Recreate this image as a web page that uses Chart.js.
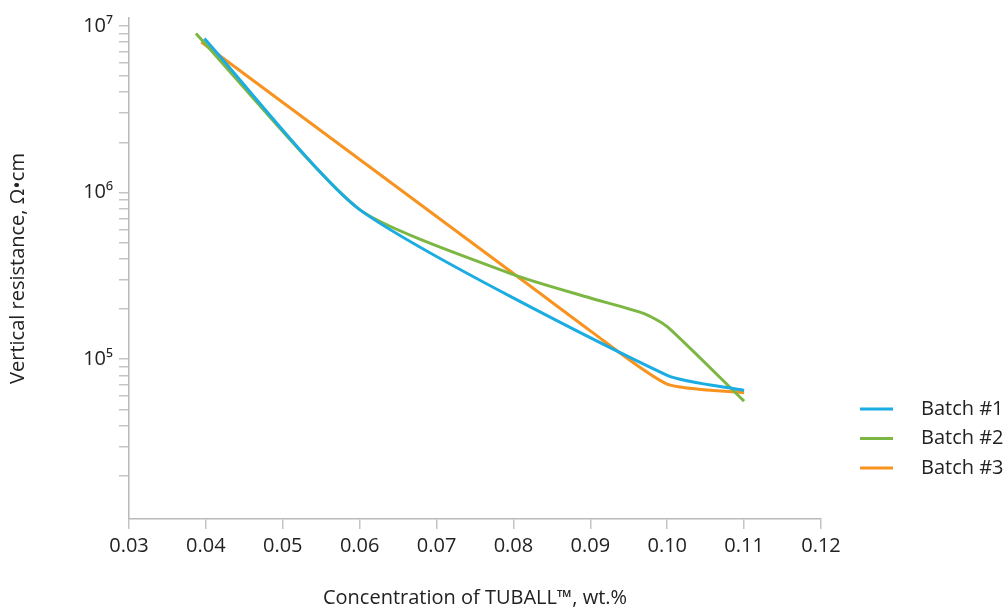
<!DOCTYPE html>
<html>
<head>
<meta charset="utf-8">
<script src="https://cdn.jsdelivr.net/npm/chart.js@4.4.1/dist/chart.umd.min.js"></script>
<style>
  body { margin: 0; background: #fff; }
  #wrap { width: 1005px; height: 612px; }
</style>
</head>
<body>
<div id="wrap"><canvas id="chart" width="1005" height="612"></canvas></div>
<script>
// series: concentration (wt.%) vs vertical resistance (Ohm*cm)
const batchNames = ["Batch #1", "Batch #2", "Batch #3"];
const batchColors = ["#1aace2", "#7cb643", "#f7931e"];

const batch1Conc = [0.0398, 0.060, 0.100, 0.110];
const batch1Res = [8.4e6, 7.9e5, 8.0e4, 6.5e4];

const batch2Conc = [0.0387, 0.060, 0.080, 0.090, 0.097, 0.100, 0.110];
const batch2Res = [9.0e6, 7.9e5, 3.22e5, 2.33e5, 1.88e5, 1.57e5, 5.6e4];

const batch3Conc = [0.0394, 0.080, 0.090, 0.100, 0.110];
const batch3Res = [8.0e6, 3.27e5, 1.48e5, 7.1e4, 6.3e4];

const xTicks = [0.03, 0.04, 0.05, 0.06, 0.07, 0.08, 0.09, 0.10, 0.11, 0.12];
const yMajor = [1e5, 1e6, 1e7];
const yMajorLabels = ["10\u2075", "10\u2076", "10\u2077"];
const yMinorMantissa = [2, 3, 4, 5, 6, 7, 8, 9];
const yDecades = [1e4, 1e5, 1e6];

const FONT = "'Open Sans', sans-serif";
const TEXT = "#222";
const FSIZE = 20;

function pts(xs, ys) {
    return xs.map((x, i) => ({ x: x, y: ys[i] }));
}

const series = [
    pts(batch1Conc, batch1Res),
    pts(batch2Conc, batch2Res),
    pts(batch3Conc, batch3Res)
];

// y tick list: majors plus 2..9 inside each decade
let yTickValues = yMajor.slice();
yDecades.forEach(d => yMinorMantissa.forEach(m => yTickValues.push(m * d)));
yTickValues = yTickValues.filter(v => v >= 1.1e4 && v <= 1.115e7).sort((a, b) => a - b);

// legend drawn on the canvas at the right side
const sideLegend = {
    id: "sideLegend",
    afterDraw(chart) {
        const ctx = chart.ctx;
        ctx.save();
        ctx.font = FSIZE + "px " + FONT;
        ctx.textBaseline = "middle";
        ctx.fillStyle = TEXT;
        chart.data.datasets.forEach((ds, i) => {
            const y = 409 + i * 29.5;
            ctx.strokeStyle = ds.borderColor;
            ctx.lineWidth = 3;
            ctx.beginPath();
            ctx.moveTo(860, y);
            ctx.lineTo(893, y);
            ctx.stroke();
            ctx.fillText(ds.label, 921, y);
        });
        ctx.restore();
    }
};

new Chart(document.getElementById("chart"), {
    type: "line",
    data: {
        datasets: series.map((data, i) => ({
            label: batchNames[i],
            data: data,
            borderColor: batchColors[i],
            backgroundColor: batchColors[i],
            borderWidth: 3,
            pointRadius: 0,
            tension: 0.2,
            fill: false
        }))
    },
    options: {
        responsive: false,
        animation: false,
        layout: { padding: { top: 13, right: 184, left: 0, bottom: 0 } },
        plugins: {
            legend: { display: false },
            tooltip: { enabled: false }
        },
        scales: {
            x: {
                type: "linear",
                min: 0.03,
                max: 0.12,
                afterBuildTicks: s => { s.ticks = xTicks.map(v => ({ value: v })); },
                afterFit: s => { s.height = 93; },
                border: { color: "#b9b9b9", width: 1.5 },
                grid: { drawOnChartArea: false, drawTicks: true, tickLength: 10, color: "#c4c4c4", lineWidth: 1.5 },
                ticks: {
                    padding: 5,
                    color: TEXT,
                    font: { family: FONT, size: FSIZE },
                    callback: v => v.toFixed(2),
                    maxRotation: 0,
                    autoSkip: false
                },
                title: {
                    display: true,
                    text: "Concentration of TUBALL\u2122, wt.%",
                    color: TEXT,
                    font: { family: FONT, size: FSIZE },
                    padding: { top: 0, bottom: 2 }
                }
            },
            y: {
                type: "logarithmic",
                min: 1.1e4,
                max: 1.115e7,
                afterBuildTicks: s => { s.ticks = yTickValues.map(v => ({ value: v })); },
                afterFit: s => { s.width = 129; },
                border: { color: "#b9b9b9", width: 1.5 },
                grid: { drawOnChartArea: false, drawTicks: true, tickLength: 10, color: "#c4c4c4", lineWidth: 1.5 },
                ticks: {
                    padding: 6,
                    color: TEXT,
                    font: { family: FONT, size: FSIZE },
                    autoSkip: false,
                    callback: v => {
                        const k = yMajor.indexOf(v);
                        return k >= 0 ? yMajorLabels[k] : "";
                    }
                },
                title: {
                    display: true,
                    text: "Vertical resistance, \u03A9\u2022cm",
                    color: TEXT,
                    font: { family: FONT, size: FSIZE },
                    padding: { top: 6, bottom: 0 }
                }
            }
        }
    },
    plugins: [sideLegend]
});
</script>
</body>
</html>
